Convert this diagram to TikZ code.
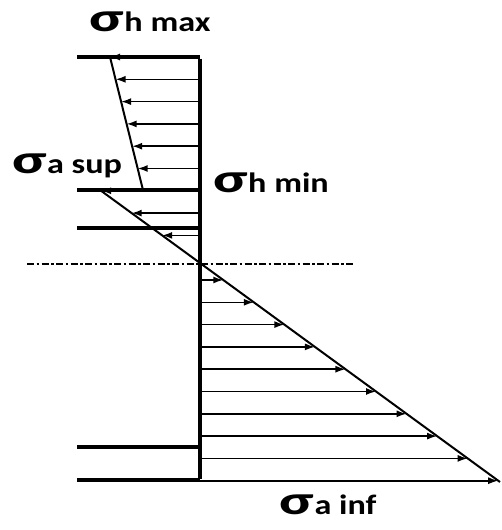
\documentclass[tikz,border=0pt]{standalone}
\usepackage{fontspec}
\setmainfont{Carlito}
\usetikzlibrary{arrows.meta}
\newcommand{\bigsig}{\raisebox{0pt}{\scalebox{1.85}[1.45]{σ}}\kern0.5pt}
\begin{document}
\begin{tikzpicture}[x=1pt,y=-1pt,
  wallline/.style={line width=4.5pt},
  levelline/.style={line width=3.2pt},
  slant/.style={line width=2pt},
  arr/.style={line width=1.6pt,-{Latex[length=10pt,width=7pt]}},
  lbl/.style={font=\bfseries\fontsize{28}{28}\selectfont,xscale=1.22,inner sep=0pt},
  axisline/.style={line width=1.5pt,dash pattern=on 7pt off 2.5pt on 2.5pt off 2.5pt}]
\useasboundingbox (0,0) rectangle (502,530);
% wall
\coordinate (wtop) at (200,57);
\coordinate (wbot) at (200,480);
% level lines
\coordinate (l1) at (77,57);
\coordinate (l2) at (77,190);
\coordinate (l3) at (77,228);
\coordinate (l4) at (77,447);
\coordinate (l5) at (77,480);
\coordinate (r2) at (200,190);
\coordinate (r3) at (200,228);
\coordinate (r4) at (200,447);
% slanted lines
\coordinate (s1) at (110,57);
\coordinate (s2) at (143,190);
\coordinate (A) at (100,190);
\coordinate (B) at (500,482);
% axis
\coordinate (d1) at (27,264);
\coordinate (d2) at (355,264);

% arrows upper trapezoid (left)
\foreach \k in {0,...,5}{
  \pgfmathsetmacro{\yy}{57+22.3*\k}
  \pgfmathsetmacro{\xx}{110+(\yy-57)/133*33}
  \coordinate (wa\k) at (200,\yy);
  \coordinate (ta\k) at (\xx,\yy);
  \draw[arr] (wa\k) -- (ta\k);
}
% arrows upper triangle (left)
\foreach \k in {6,7,8}{
  \pgfmathsetmacro{\yy}{57+22.3*\k}
  \pgfmathsetmacro{\xx}{100+(\yy-190)/292*400}
  \coordinate (wb\k) at (200,\yy);
  \coordinate (tb\k) at (\xx,\yy);
  \draw[arr] (wb\k) -- (tb\k);
}
% arrows lower triangle (right)
\foreach \k in {10,...,19}{
  \pgfmathsetmacro{\yy}{57+22.3*\k}
  \pgfmathsetmacro{\xx}{100+(\yy-190)/292*400}
  \coordinate (wc\k) at (200,\yy);
  \coordinate (tc\k) at (\xx,\yy);
  \draw[arr] (wc\k) -- (tc\k);
}

\draw[slant] (s1) -- (s2);
\draw[slant] (A) -- (B);
\draw[levelline] (l1) -- (wtop);
\draw[levelline] (l2) -- (r2);
\draw[levelline] (l3) -- (r3);
\draw[levelline] (l4) -- (r4);
\draw[levelline] (l5) -- (wbot);
\draw[axisline] (d1) -- (d2);
\draw[wallline] ([yshift=-1.5pt]wtop) -- ([yshift=1.5pt]wbot);

% labels
\node[lbl] (hmax) at (150,22) {\bigsig h max};
\node[lbl] (asup) at (67,166) {\bigsig a sup};
\node[lbl] (hmin) at (271,183) {\bigsig h min};
\node[lbl] (ainf) at (328,505) {\bigsig a inf};
\end{tikzpicture}
\end{document}
